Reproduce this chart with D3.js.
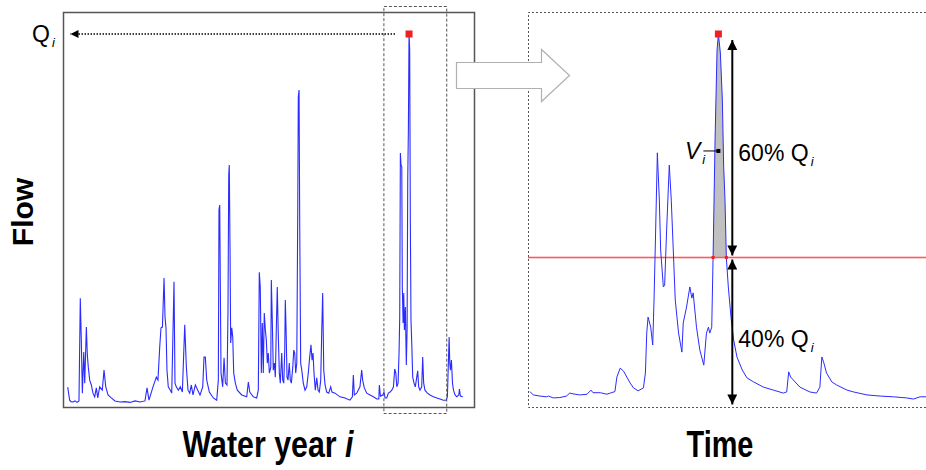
<!DOCTYPE html>
<html>
<head>
<meta charset="utf-8">
<script src="https://d3js.org/d3.v7.min.js"></script>
<style>
body { margin: 0; background: #fff; }
text { font-family: "Liberation Sans", Arial, sans-serif; }
.big { font-family: "Liberation Sans", Arial, sans-serif; font-weight: bold; }
</style>
</head>
<body>
<div id="canvas"></div>
<script>
// ----------------------------------------------------------
// DATA -----------------------------------------------------
// ----------------------------------------------------------
// daily flow through water year i, [day, flow as % of Qi]
var yearSeries = [
[0.2,4.8],[2.0,1.3],[3.2,0.9],[5.1,0.8],[6.9,1.1],[8.8,0.7],[10.6,1.1],[11.8,28.8],[12.7,18.1],[13.7,3.2],
[15.0,14.3],[15.9,5.9],[17.4,21.0],[18.3,13.5],[19.2,10.2],[20.5,6.7],[22.0,5.4],[23.5,3.2],[25.1,2.2],[26.6,4.6],
[27.9,1.9],[29.7,4.9],[32.1,4.0],[33.7,9.4],[35.3,4.9],[37.4,2.7],[40.4,1.9],[43.8,1.1],[48.5,0.8],[53.1,0.9],
[57.7,0.7],[62.3,1.1],[66.9,0.8],[71.5,1.1],[73.4,4.6],[75.2,1.3],[78.9,4.9],[82.0,7.5],[83.5,6.7],[85.1,15.6],
[86.3,20.8],[87.6,21.0],[89.1,34.2],[90.0,23.7],[90.9,20.8],[91.8,9.4],[93.0,4.9],[94.9,4.0],[96.2,3.2],[98.3,33.2],
[99.2,5.9],[100.4,4.9],[102.3,4.0],[104.1,4.9],[106.0,3.5],[108.2,21.6],[109.7,10.2],[111.2,4.0],[112.8,3.2],[114.3,5.4],
[115.8,2.7],[118.0,5.4],[120.2,4.0],[122.3,2.7],[124.8,4.9],[126.0,12.9],[127.2,12.9],[128.5,6.7],[130.9,3.5],[134.6,1.9],
[137.7,1.3],[139.2,6.7],[139.8,52.6],[140.5,53.9],[141.0,33.7],[141.7,8.6],[143.2,4.9],[144.5,12.7],[145.7,5.9],[147.2,5.4],
[148.1,24.8],[148.8,62.0],[149.3,64.7],[150.0,41.8],[150.6,16.7],[151.6,20.8],[152.5,18.3],[153.4,8.6],[154.9,5.9],[156.7,4.0],
[160.8,2.7],[165.4,2.2],[166.9,6.2],[168.2,3.5],[171.5,2.2],[174.6,1.9],[176.1,4.0],[177.0,35.8],[177.9,31.8],[178.9,8.6],
[179.8,22.1],[180.7,8.6],[181.6,24.8],[182.6,20.2],[183.5,17.5],[184.4,11.3],[185.3,14.0],[186.3,8.6],[187.6,10.2],[188.1,33.7],
[189.0,22.9],[189.9,9.4],[190.9,11.3],[191.8,7.5],[192.7,20.2],[193.6,31.8],[194.5,19.4],[195.5,8.6],[196.4,5.9],[197.7,14.0],
[198.6,6.7],[199.6,5.9],[200.5,14.8],[201.0,28.3],[201.7,20.8],[202.6,7.5],[203.5,6.7],[204.7,11.3],[205.6,6.7],[206.6,5.9],
[207.9,10.2],[208.8,14.8],[209.7,14.0],[210.6,8.6],[211.6,11.3],[212.5,52.6],[213.0,83.0],[213.7,84.9],[214.3,49.1],[215.2,11.3],
[216.2,9.4],[217.6,5.9],[219.2,4.0],[220.8,4.9],[222.3,8.9],[223.5,12.9],[224.7,16.2],[225.7,12.1],[226.6,14.0],[227.5,8.6],
[228.7,4.0],[230.0,7.3],[231.2,4.0],[232.4,3.5],[233.7,6.7],[234.6,19.4],[235.5,30.2],[236.5,9.4],[237.7,5.4],[239.2,3.5],
[241.1,3.2],[242.9,4.9],[244.1,3.5],[246.9,3.2],[251.5,2.2],[256.1,1.9],[260.7,1.3],[262.9,2.2],[263.8,8.1],[264.7,2.7],
[266.9,3.2],[269.9,4.9],[271.5,9.4],[272.4,6.7],[273.9,4.6],[276.2,3.2],[279.2,2.7],[282.3,2.2],[285.4,1.6],[287.3,1.6],
[287.8,5.4],[288.8,2.4],[290.9,2.7],[292.1,3.5],[293.1,1.9],[294.6,1.9],[296.1,3.2],[297.7,3.5],[299.3,4.0],[300.8,4.9],
[302.0,9.7],[303.0,8.6],[303.9,4.9],[305.1,5.9],[306.0,14.3],[306.6,23.5],[307.2,67.9],[307.8,64.7],[308.5,64.2],[309.0,31.8],
[309.7,22.1],[310.3,30.2],[310.9,20.2],[311.8,26.4],[312.7,10.8],[313.4,20.2],[314.0,60.6],[314.6,74.2],[315.2,100],[315.8,95.7],
[316.4,49.1],[317.0,22.9],[317.7,16.7],[318.6,7.5],[319.8,5.9],[321.0,4.9],[322.3,7.5],[323.2,9.2],[324.1,4.9],[325.3,4.0],
[326.9,4.9],[327.8,12.9],[328.7,5.9],[329.9,4.0],[332.1,3.2],[334.6,2.7],[337.6,2.2],[340.8,1.9],[343.8,1.6],[346.9,1.3],
[349.4,1.3],[350.6,2.2],[351.5,11.3],[352.2,18.3],[352.8,11.3],[353.4,9.4],[354.3,12.1],[355.3,5.9],[356.2,4.0],[357.7,2.7],
[359.3,2.2],[361.1,2.7],[361.7,4.3],[362.6,2.4],[364.8,2.2]
];

// flow event around the annual peak, [time in days, flow as % of Qi]
var eventSeries = [
[0.3,4.0],[0.8,3.1],[1.8,2.8],[2.8,2.6],[3.1,2.8],[3.8,2.3],[4.8,2.4],[5.8,2.8],[6.3,3.6],[6.8,3.4],
[7.8,3.1],[8.9,3.3],[9.5,4.4],[9.8,3.7],[10.9,3.7],[11.9,3.3],[12.4,3.6],[13.1,4.0],[13.4,7.9],[13.9,10.3],
[14.4,9.5],[14.9,7.9],[15.4,6.3],[15.9,5.0],[16.6,4.2],[17.4,5.0],[17.7,9.0],[17.9,19.7],[18.1,24.0],[18.5,21.3],
[18.8,16.5],[19.0,28.6],[19.2,43.9],[19.5,68.1],[19.8,55.4],[20.0,42.0],[20.4,32.1],[20.6,32.6],[20.9,47.4],[21.3,64.8],
[21.6,55.4],[21.9,42.0],[22.2,28.6],[22.7,19.7],[23.2,14.6],[23.4,22.4],[23.9,26.7],[24.4,32.1],[24.7,29.1],[24.9,30.5],
[25.4,21.3],[25.9,15.2],[26.5,11.1],[26.9,19.7],[27.2,21.3],[27.4,19.7],[27.7,21.3],[27.9,40.0],[28.2,71.5],[28.5,95.7],
[28.7,100],[29.0,94.9],[29.3,82.3],[29.5,64.3],[29.7,55.4],[29.9,40.0],[30.2,32.1],[30.6,24.0],[31.0,17.9],[31.5,13.3],
[32.3,9.8],[33.0,7.7],[34.0,6.6],[35.5,5.2],[37.0,4.4],[38.5,3.6],[39.0,3.9],[39.3,9.3],[39.6,7.9],[40.0,7.1],
[41.0,5.2],[42.5,3.9],[43.5,3.6],[44.0,5.2],[44.3,13.3],[44.6,11.7],[45.0,9.0],[45.8,6.6],[46.5,5.8],[48.1,4.4],
[49.1,3.9],[51.1,3.1],[53.1,2.8],[55.1,2.6],[57.1,2.3],[58.1,2.0],[59.1,2.6],[60.0,2.6]
];

var peakFlow = 100;          // Qi
var peakDayYear = 315.2;     // day of Qi in water year
var peakDayEvent = 28.7;     // time of Qi in event window
var thresholdShare = 0.4;    // 40% Qi
var zoomWindow = [292, 350]; // days of the year shown on the right
var volumeMarkFlow = 68.6;   // where the Vi pointer touches
var arrowTime = 30.8;        // time of the 60% / 40% arrows

var labels = {
  yAxis: "Flow",
  xLeft: "Water year ",
  xLeftItalic: "i",
  xRight: "Time",
  q: "Q",
  v: "V",
  sub: "i",
  upper: "60% ",
  lower: "40% "
};

var colors = {
  line: "#2b2bff",
  frame: "#555555",
  dash: "#555",
  peak: "#ee2020",
  cutoff: "#ff5a5a",
  fill: "#c0c0c0",
  bigArrow: "#b0b0b0"
};

// ----------------------------------------------------------
// STRUCTURE ------------------------------------------------
// ----------------------------------------------------------
var svg = d3.select("#canvas").append("svg")
.attr("width", 926)
.attr("height", 470)
.style("display", "block")
.style("background", "#fff");

var defs = svg.append("defs");
function addMarker(id, color, w, h) {
defs.append("marker")
.attr("id", id)
.attr("viewBox", "0 0 10 10")
.attr("refX", 10).attr("refY", 5)
.attr("markerUnits", "userSpaceOnUse")
.attr("markerWidth", w).attr("markerHeight", h)
.attr("orient", "auto-start-reverse")
.append("path")
.attr("d", "M0,0 L10,5 L0,10 Z")
.style("fill", color);
}
addMarker("head_black", "#000", 11, 10);
addMarker("head_small", "#000", 10, 8);

// ----------------------------------------------------------
// SCALES ---------------------------------------------------
// ----------------------------------------------------------
var xYear = d3.scaleLinear().domain([0, 365]).range([67.5, 463]);
var yYear = d3.scaleLinear().domain([0, peakFlow]).range([405, 34]);
var xEvent = d3.scaleLinear().domain([0, 60]).range([528, 926]);
var yEvent = d3.scaleLinear().domain([0, peakFlow]).range([406.5, 34]);

var left_group = svg.append("g").attr("class", "left_group");
var right_group = svg.append("g").attr("class", "right_group");
var text_group = svg.append("g").attr("class", "text_group");

// ----------------------------------------------------------
// LEFT PANEL -----------------------------------------------
// ----------------------------------------------------------
left_group.append("rect")
.attr("x", 63.5).attr("y", 12.5)
.attr("width", 411).attr("height", 395)
.style("fill", "none").style("stroke", colors.frame).style("stroke-width", 1.5);

var lineYear = d3.line()
.x(function(d) { return xYear(d[0]); })
.y(function(d) { return yYear(d[1]); });

left_group.append("path")
.datum(yearSeries)
.attr("d", lineYear)
.style("fill", "none").style("stroke", colors.line).style("stroke-width", 1.1);

// zoom window box
left_group.append("rect")
.attr("x", xYear(zoomWindow[0])).attr("y", 6.5)
.attr("width", xYear(zoomWindow[1]) - xYear(zoomWindow[0]))
.attr("height", 407)
.style("fill", "none").style("stroke", colors.dash).style("stroke-width", 1)
.style("stroke-dasharray", "3,2");

// dotted arrow from peak to Qi label
left_group.append("line")
.attr("x1", xYear(peakDayYear) - 14).attr("y1", yYear(peakFlow))
.attr("x2", xYear(0) + 3).attr("y2", yYear(peakFlow))
.attr("marker-end", "url(#head_small)")
.style("stroke", "#000").style("stroke-width", 1.5).style("stroke-dasharray", "1.5,1.5");

left_group.append("rect")
.attr("x", xYear(peakDayYear) - 3.5).attr("y", yYear(peakFlow) - 3.5)
.attr("width", 7).attr("height", 7)
.style("fill", colors.peak);

// ----------------------------------------------------------
// RIGHT PANEL ----------------------------------------------
// ----------------------------------------------------------
var frame = d3.path();
frame.moveTo(926, 12.5); frame.lineTo(528.5, 12.5);
frame.lineTo(528.5, 407.5); frame.lineTo(926, 407.5);
right_group.append("path")
.attr("d", frame.toString())
.style("fill", "none").style("stroke", colors.dash).style("stroke-width", 1)
.style("stroke-dasharray", "2,2");

var threshold = peakFlow * thresholdShare;

// volume above threshold
var peakPart = eventSeries.filter(function(d) { return d[1] >= threshold; })
.filter(function(d) { return Math.abs(d[0] - peakDayEvent) < 2; });
right_group.append("path")
.datum(peakPart)
.attr("d", d3.area()
.x(function(d) { return xEvent(d[0]); })
.y0(yEvent(threshold))
.y1(function(d) { return yEvent(d[1]); }))
.style("fill", colors.fill);

// 40% Qi cut-off line
right_group.append("rect")
.attr("x", xEvent(0)).attr("width", xEvent(60) - xEvent(0))
.attr("y", yEvent(threshold) - 0.8).attr("height", 1.6)
.style("fill", colors.cutoff);

var lineEvent = d3.line()
.x(function(d) { return xEvent(d[0]); })
.y(function(d) { return yEvent(d[1]); });

right_group.append("path")
.datum(eventSeries)
.attr("d", lineEvent)
.style("fill", "none").style("stroke", colors.line).style("stroke-width", 1);

// red dots where the hydrograph crosses the threshold
right_group.selectAll(".cross")
.data([peakPart[0], peakPart[peakPart.length - 1]])
.enter().append("rect")
.attr("class", "cross")
.attr("x", function(d) { return xEvent(d[0]) - 1.5; })
.attr("y", yEvent(threshold) - 1.5)
.attr("width", 3).attr("height", 3)
.style("fill", colors.peak);

right_group.append("rect")
.attr("x", xEvent(peakDayEvent) - 3.5).attr("y", yEvent(peakFlow) - 3.5)
.attr("width", 7).attr("height", 7)
.style("fill", colors.peak);

// double arrows 60% / 40%
var ax = xEvent(arrowTime);
right_group.append("line")
.attr("x1", ax).attr("x2", ax)
.attr("y1", yEvent(threshold) - 2).attr("y2", yEvent(peakFlow) + 6)
.attr("marker-start", "url(#head_black)").attr("marker-end", "url(#head_black)")
.style("stroke", "#000").style("stroke-width", 2);
right_group.append("line")
.attr("x1", ax).attr("x2", ax)
.attr("y1", yEvent(threshold) + 2).attr("y2", yEvent(0) - 2)
.attr("marker-start", "url(#head_black)").attr("marker-end", "url(#head_black)")
.style("stroke", "#000").style("stroke-width", 2);

// Vi pointer
right_group.append("line")
.attr("x1", xEvent(peakDayEvent) - 15).attr("x2", xEvent(peakDayEvent))
.attr("y1", yEvent(volumeMarkFlow)).attr("y2", yEvent(volumeMarkFlow))
.style("stroke", "#000").style("stroke-width", 1);
right_group.append("rect")
.attr("x", xEvent(peakDayEvent) - 2).attr("y", yEvent(volumeMarkFlow) - 2)
.attr("width", 4).attr("height", 4)
.style("fill", "#000");

// big hollow arrow between panels
var arrow = d3.path();
arrow.moveTo(456.5, 62.5); arrow.lineTo(541.5, 62.5); arrow.lineTo(541.5, 49.5);
arrow.lineTo(569.5, 75.5); arrow.lineTo(541.5, 101.5); arrow.lineTo(541.5, 88.5);
arrow.lineTo(456.5, 88.5); arrow.closePath();
svg.append("path")
.attr("d", arrow.toString())
.style("fill", "#fff").style("stroke", colors.bigArrow).style("stroke-width", 1.2);

// ----------------------------------------------------------
// TEXT -----------------------------------------------------
// ----------------------------------------------------------
function subLabel(x, y, main, italicMain) {
var t = text_group.append("text")
.attr("x", x).attr("y", y)
.style("font-size", "23px").style("fill", "#000");
t.append("tspan").text(main).style("font-style", italicMain ? "italic" : "normal");
t.append("tspan").text(labels.sub)
.attr("dy", 5).attr("dx", 2)
.style("font-size", "13px").style("font-style", "italic");
return t;
}

subLabel(32, yYear(peakFlow) + 8, labels.q, false);
subLabel(685, yEvent(volumeMarkFlow) + 8, labels.v, true);
subLabel(ax + 6, yEvent(volumeMarkFlow) + 10, labels.upper + labels.q, false);
subLabel(ax + 6, yEvent(threshold * 0.45) + 8, labels.lower + labels.q, false);

text_group.append("text")
.attr("class", "big")
.attr("transform", "translate(33,212) rotate(-90)")
.attr("text-anchor", "middle")
.style("font-size", "30px")
.text(labels.yAxis);

// condensed bold titles
var xl = text_group.append("text")
.attr("class", "big")
.attr("transform", "translate(268,457) scale(0.82,1)")
.attr("text-anchor", "middle")
.style("font-size", "37px");
xl.append("tspan").text(labels.xLeft);
xl.append("tspan").text(labels.xLeftItalic).style("font-style", "italic");

text_group.append("text")
.attr("class", "big")
.attr("transform", "translate(720,457) scale(0.78,1)")
.attr("text-anchor", "middle")
.style("font-size", "37px")
.text(labels.xRight);
</script>
</body>
</html>
